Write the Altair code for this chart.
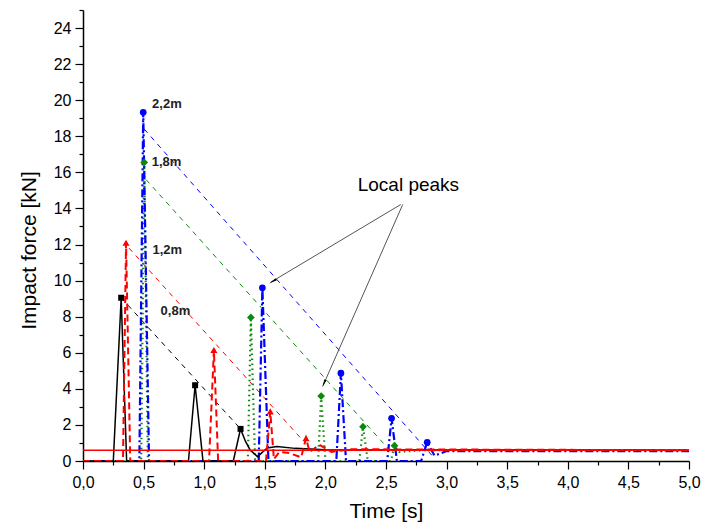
import altair as alt
import pandas as pd

# ---- impact curves ----
t_08 = [0.0, 0.25, 0.315, 0.36, 0.87, 0.925, 0.99, 1.24, 1.30, 1.34, 1.38, 1.44, 1.52, 1.60, 1.75, 2.0, 5.0]
F_08 = [0, 0, 9.05, 0, 0, 4.2, 0, 0, 1.78, 1.1, 0.6, 0.24, 0.72, 0.8, 0.7, 0.63, 0.6]

t_12 = [0.0, 0.33, 0.355, 0.39, 1.04, 1.08, 1.115, 1.51, 1.545, 1.575, 1.62, 1.70, 1.80, 1.84, 1.87, 1.95, 2.05, 2.2, 5.0]
F_12 = [0, 0, 12.1, 0, 0, 6.15, 0, 0, 2.75, 0.1, 0.5, 0.45, 0.2, 1.26, 0.5, 0.9, 0.5, 0.65, 0.6]

t_18 = [0.0, 0.48, 0.505, 0.535, 1.36, 1.385, 1.42, 1.94, 1.965, 2.0, 2.28, 2.31, 2.35, 2.54, 2.57, 2.61, 2.8, 5.0]
F_18 = [0, 0, 16.55, 0, 0, 7.96, 0, 0, 3.6, 0, 0, 1.9, 0, 0, 0.85, 0.5, 0.6, 0.6]

t_22 = [0.0, 0.465, 0.497, 0.545, 1.45, 1.48, 1.53, 2.09, 2.128, 2.17, 2.51, 2.546, 2.59, 2.79, 2.84, 2.9, 3.0, 5.0]
F_22 = [0, 0, 19.33, 0, 0, 9.6, 0, 0, 4.87, 0, 0, 2.37, 0, 0, 1.04, 0.3, 0.55, 0.55]

# ---- local peaks (markers) ----
pk_t_08 = [0.315, 0.925, 1.30]
pk_F_08 = [9.05, 4.2, 1.78]
pk_t_12 = [0.355, 1.08, 1.545, 1.84]
pk_F_12 = [12.1, 6.15, 2.75, 1.26]
pk_t_18 = [0.505, 1.385, 1.965, 2.31, 2.57]
pk_F_18 = [16.55, 7.96, 3.6, 1.9, 0.85]
pk_t_22 = [0.497, 1.48, 2.128, 2.546, 2.84]
pk_F_22 = [19.33, 9.6, 4.87, 2.37, 1.04]

# ---- envelope lines ----
env_t_08 = [0.315, 1.30]
env_F_08 = [9.05, 1.78]
env_t_12 = [0.38, 1.81]
env_F_12 = [11.8, 1.17]
env_t_18 = [0.52, 2.53]
env_F_18 = [15.6, 0.6]
env_t_22 = [0.505, 2.88]
env_F_22 = [18.4, 0.3]

# static reference line
ref_t = [0.0, 5.0]
ref_F = [0.6, 0.6]

# drop height labels
lab_text = ["2,2m", "1,8m", "1,2m", "0,8m"]
lab_t = [0.57, 0.567, 0.573, 0.64]
lab_F = [19.8, 16.55, 11.7, 8.3]

# annotation
note_text = ["Local peaks"]
note_t = [2.685]
note_F = [15.3]
arr_t0 = [2.622, 2.638]
arr_F0 = [14.22, 14.22]
arr_t1 = [1.547, 1.98]
arr_F1 = [9.9, 4.17]
head_t = [1.575, 1.992]
head_F = [10.0, 4.37]
head_ang = [239, 204]

x_ticks = [i * 0.25 for i in range(21)]
y_ticks = list(range(0, 26))

FONT = "Liberation Sans"
BLACK, RED, GREEN, BLUE = "#000000", "#ff0000", "#0a8a0a", "#0000ff"

xs = alt.Scale(domain=[0, 5], nice=False, zero=False)
ys = alt.Scale(domain=[0, 25], nice=False)

x_axis = alt.Axis(
    values=x_ticks, title="Time [s]",
    labelExpr="datum.value % 0.5 == 0 ? replace(format(datum.value, '.1f'), '.', ',') : ''",
    tickSize={"condition": {"test": "datum.value % 0.5 == 0", "value": 8}, "value": 4},
    labelFontSize={"condition": {"test": "datum.value % 0.5 == 0", "value": 16}, "value": 0},
    labelFlush=False, labelOverlap=False, grid=False, labelPadding=5,
    titleFontSize=21, titlePadding=10)
y_axis = alt.Axis(
    values=y_ticks, title="Impact force [kN]",
    labelExpr="datum.value % 2 == 0 ? datum.value : ''",
    tickSize={"condition": {"test": "datum.value % 2 == 0", "value": 8}, "value": 4},
    labelFontSize={"condition": {"test": "datum.value % 2 == 0", "value": 16}, "value": 0},
    labelFlush=False, labelOverlap=False, grid=False, labelPadding=4,
    titleFontSize=21, titlePadding=14, titleY=240)

X = alt.X("t:Q", scale=xs, axis=x_axis)
Y = alt.Y("F:Q", scale=ys, axis=y_axis)


def df(t, F):
    return pd.DataFrame({"t": t, "F": F, "i": list(range(len(t)))})


def curve(t, F, color, dash, width):
    kw = dict(color=color, strokeWidth=width, clip=True)
    if dash:
        kw["strokeDash"] = dash
    return alt.Chart(df(t, F)).mark_line(**kw).encode(x=X, y=Y, order="i:Q")


def pts(t, F, color, shape, size):
    return alt.Chart(df(t, F)).mark_point(shape=shape, filled=True, color=color, size=size, opacity=1).encode(
        x=X, y=Y)


layers = [
    curve(env_t_08, env_F_08, BLACK, [5, 5], 1),
    curve(env_t_12, env_F_12, RED, [5, 5], 1),
    curve(env_t_18, env_F_18, GREEN, [5, 5], 1),
    curve(env_t_22, env_F_22, BLUE, [5, 5], 1),
    curve(t_18, F_18, GREEN, [1.5, 3.5], 2.2),
    curve(t_22, F_22, BLUE, [8, 3, 2, 3], 2.2),
    curve(t_08, F_08, BLACK, None, 1.5),
    curve(t_12, F_12, RED, [7, 4], 2),
    curve(ref_t, ref_F, RED, None, 1.5),
    pts(pk_t_08, pk_F_08, BLACK, "square", 36),
    pts(pk_t_12, pk_F_12, RED, "triangle-up", 50),
    pts(pk_t_18, pk_F_18, GREEN, "diamond", 60),
    pts(pk_t_22, pk_F_22, BLUE, "circle", 45),
]

lab_df = pd.DataFrame({"t": lab_t, "F": lab_F, "txt": lab_text})
layers.append(alt.Chart(lab_df).mark_text(align="left", baseline="middle", font=FONT, fontSize=13,
                                          fontWeight="bold", color="#222222").encode(
    x=X, y=Y, text="txt:N"))

note_df = pd.DataFrame({"t": note_t, "F": note_F, "txt": note_text})
layers.append(alt.Chart(note_df).mark_text(align="center", baseline="middle", font=FONT, fontSize=19,
                                           color="#000000").encode(
    x=X, y=Y, text="txt:N"))

arr_df = pd.DataFrame({"t": arr_t0, "F": arr_F0, "t2": arr_t1, "F2": arr_F1})
layers.append(alt.Chart(arr_df).mark_rule(color="#555555", strokeWidth=1).encode(
    x=X, y=Y, x2="t2:Q", y2="F2:Q"))

head_df = pd.DataFrame({"t": head_t, "F": head_F, "a": head_ang})
layers.append(alt.Chart(head_df).mark_point(shape="wedge", filled=True, color="#000000", size=90, opacity=1).encode(
    x=X, y=Y, angle=alt.Angle("a:Q", scale=None)))

chart = alt.layer(*layers).properties(
    width=606, height=451,
    autosize=alt.AutoSizeParams(type="none"),
    padding={"left": 75, "top": 2, "right": 12, "bottom": 62},
).configure_view(stroke=None).configure_axis(
    labelFont=FONT, titleFont=FONT, labelColor="#000000", titleColor="#000000",
    titleFontWeight="normal", domainColor="#000000", tickColor="#000000", domainWidth=1.5, tickWidth=1.2,
)

chart.save("out.html", embed_options={"renderer": "svg", "actions": False})
